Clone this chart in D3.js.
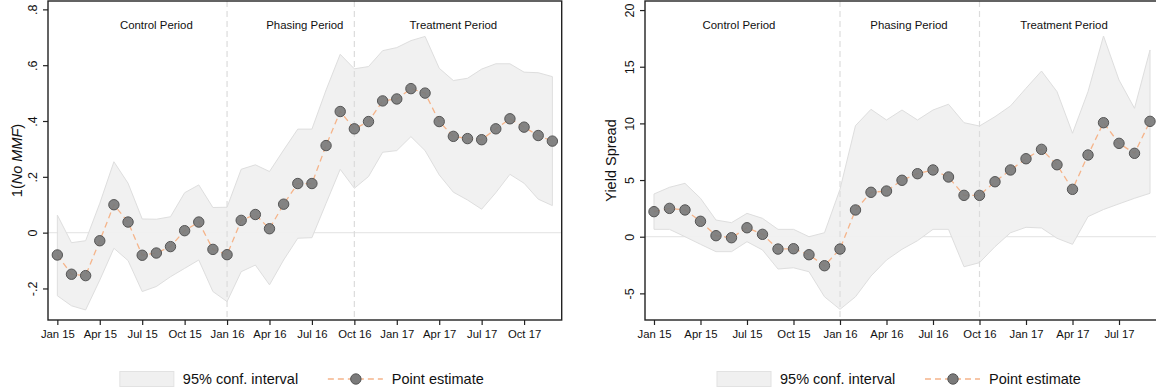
<!DOCTYPE html>
<html>
<head>
<meta charset="utf-8">
<script src="https://d3js.org/d3.v7.min.js"></script>
<style>
body { margin: 0; background: #fff; }
svg { display: block; font-family: "Liberation Sans", Arial, sans-serif; }
</style>
</head>
<body>
<svg id="chart" width="1156" height="391"></svg>
<script>
// tick labels (every third month, starting Jan 15)
const tickLabels = ["Jan 15","Apr 15","Jul 15","Oct 15","Jan 16","Apr 16","Jul 16","Oct 16","Jan 17","Apr 17","Jul 17","Oct 17"];
const periodLabels = ["Control Period","Phasing Period","Treatment Period"];
const periodBreaks = [12, 21]; // Jan 16, Oct 16

// left panel: 1(No MMF), Jan 15 .. Dec 17
const leftEstimate = [-0.080,-0.149,-0.154,-0.029,0.100,0.038,-0.081,-0.073,-0.050,0.007,0.038,-0.060,
  -0.079,0.044,0.065,0.014,0.102,0.176,0.176,0.312,0.434,0.372,0.398,0.472,
  0.479,0.516,0.500,0.398,0.345,0.337,0.333,0.372,0.408,0.378,0.348,0.328];
const leftUpper = [0.063,-0.036,-0.029,0.105,0.254,0.177,0.049,0.048,0.057,0.143,0.171,0.090,
  0.091,0.227,0.243,0.219,0.296,0.371,0.371,0.511,0.639,0.587,0.595,0.652,
  0.663,0.688,0.703,0.589,0.545,0.553,0.586,0.605,0.605,0.575,0.573,0.559];
const leftLower = [-0.226,-0.262,-0.277,-0.170,-0.056,-0.100,-0.211,-0.193,-0.158,-0.128,-0.098,-0.211,
  -0.247,-0.140,-0.116,-0.187,-0.098,-0.020,-0.018,0.105,0.227,0.159,0.201,0.288,
  0.294,0.344,0.294,0.207,0.145,0.117,0.084,0.143,0.209,0.177,0.120,0.097];
const leftYTicks = [-0.2, 0, 0.2, 0.4, 0.6, 0.8];
const leftYLabels = ["-.2","0",".2",".4",".6",".8"];

// right panel: yield spread, Jan 15 .. Sep 17
const rightEstimate = [2.21,2.50,2.36,1.36,0.09,-0.09,0.79,0.21,-1.09,-1.06,-1.59,-2.56,
  -1.09,2.36,3.92,4.03,4.98,5.56,5.89,5.27,3.65,3.65,4.85,5.89,
  6.88,7.71,6.35,4.18,7.21,10.06,8.24,7.36,10.18];
const rightUpper = [3.77,4.36,4.71,3.39,1.47,1.24,2.06,1.62,0.65,0.65,0.00,0.35,
  4.18,9.80,11.24,10.30,11.18,10.30,11.18,11.69,10.06,9.77,10.59,11.54,
  13.10,14.62,12.80,9.13,12.80,17.71,13.83,11.33,16.48];
const rightLower = [0.65,0.65,0.00,-0.67,-1.32,-1.32,-0.44,-1.17,-2.85,-2.74,-3.09,-5.30,
  -6.41,-5.30,-3.47,-2.06,-1.11,-0.35,0.65,0.65,-2.65,-2.29,-0.88,0.35,
  0.83,0.77,-0.14,-0.67,1.77,2.40,2.90,3.39,3.83];
const rightYTicks = [-5, 0, 5, 10, 15, 20];
const rightYLabels = ["-5","0","5","10","15","20"];

const svg = d3.select("#chart");

function drawPanel(p) {
  const g = svg.append("g");
  const x = d3.scaleLinear().domain(p.xDomain).range([p.left, p.right]);
  const y = d3.scaleLinear().domain(p.yDomain).range([p.bottom, p.top]);
  const n = p.est.length;
  const idx = d3.range(n);

  // zero line
  g.append("line")
    .attr("x1", p.left).attr("x2", p.right)
    .attr("y1", y(0)).attr("y2", y(0))
    .attr("stroke", "#e8e8e8").attr("stroke-width", 1.2);

  // confidence band
  const area = d3.area()
    .x(i => x(i)).y0(i => y(p.lo[i])).y1(i => y(p.hi[i]));
  g.append("path").datum(idx)
    .attr("d", area)
    .attr("fill", "#f0f0f0").attr("fill-opacity", 0.92)
    .attr("stroke", "#dedede").attr("stroke-width", 1);

  // period break lines
  g.selectAll(".brk").data(periodBreaks).join("line")
    .attr("x1", d => x(d)).attr("x2", d => x(d))
    .attr("y1", p.top).attr("y2", p.bottom)
    .attr("stroke", "#dcdcdc").attr("stroke-width", 1.2)
    .attr("stroke-dasharray", "6,4");

  // period labels
  g.selectAll(".plab").data(periodLabels).join("text")
    .attr("x", (d, i) => x(p.labAt[i]))
    .attr("y", p.top + 28)
    .attr("text-anchor", "middle")
    .attr("font-size", 11.4)
    .attr("fill", "#111")
    .text(d => d);

  // dashed estimate line
  g.append("path").datum(idx)
    .attr("d", d3.line().x(i => x(i)).y(i => y(p.est[i])))
    .attr("fill", "none")
    .attr("stroke", "#f5b48a").attr("stroke-width", 1.3)
    .attr("stroke-dasharray", "6,4");

  g.selectAll(".pt").data(idx).join("circle")
    .attr("cx", i => x(i)).attr("cy", i => y(p.est[i]))
    .attr("r", 5.2)
    .attr("fill", "#7a7a7a").attr("fill-opacity", 0.92)
    .attr("stroke", "#555").attr("stroke-width", 1);

  // frame
  g.append("rect")
    .attr("x", p.left).attr("y", p.top)
    .attr("width", p.right - p.left).attr("height", p.bottom - p.top)
    .attr("fill", "none").attr("stroke", "#222").attr("stroke-width", 1.4);

  // x axis
  const xAxis = d3.axisBottom(x)
    .tickValues(tickLabels.map((d, i) => i * 3).filter(v => v < n))
    .tickFormat(v => tickLabels[v / 3])
    .tickSize(5).tickPadding(5);
  const xg = g.append("g").attr("transform", `translate(0,${p.bottom})`).call(xAxis);
  xg.select(".domain").remove();
  xg.selectAll("line").attr("stroke", "#222").attr("stroke-width", 1.2);
  xg.selectAll("text").attr("font-size", 11.3).attr("fill", "#111")
    .attr("font-family", "Liberation Sans, Arial, sans-serif");

  // y axis with rotated labels
  const yAxis = d3.axisLeft(y)
    .tickValues(p.yTicks)
    .tickFormat((v, i) => p.yLabels[i])
    .tickSize(5);
  const yg = g.append("g").attr("transform", `translate(${p.left},0)`).call(yAxis);
  yg.select(".domain").remove();
  yg.selectAll("line").attr("stroke", "#222").attr("stroke-width", 1.2);
  yg.selectAll("text")
    .attr("x", null).attr("dy", null)
    .attr("transform", "translate(-11.5,0) rotate(-90)")
    .attr("text-anchor", "middle")
    .attr("font-size", 12.5).attr("fill", "#111")
    .attr("font-family", "Liberation Sans, Arial, sans-serif");

  // y title
  const t = g.append("text")
    .attr("transform", `translate(${p.titleX},${(p.top + p.bottom) / 2}) rotate(-90)`)
    .attr("text-anchor", "middle")
    .attr("font-size", 14.5).attr("fill", "#111");
  p.title.forEach(s => t.append("tspan").attr("font-style", s.italic ? "italic" : null).text(s.t));

  // legend
  const cx = (p.left + p.right) / 2;
  const ly = 379;
  const lg = g.append("g");
  lg.append("rect")
    .attr("x", cx - 185).attr("y", ly - 7.5).attr("width", 54).attr("height", 15)
    .attr("fill", "#f0f0f0").attr("stroke", "#e2e2e2").attr("stroke-width", 1);
  lg.append("text").attr("x", cx - 122).attr("y", ly + 5)
    .attr("font-size", 14.5).attr("fill", "#111").text("95% conf. interval");
  lg.append("line")
    .attr("x1", cx + 23).attr("x2", cx + 78).attr("y1", ly).attr("y2", ly)
    .attr("stroke", "#f5b48a").attr("stroke-width", 1.3).attr("stroke-dasharray", "6,4");
  lg.append("circle").attr("cx", cx + 51).attr("cy", ly).attr("r", 5.2)
    .attr("fill", "#7a7a7a").attr("stroke", "#555").attr("stroke-width", 1);
  lg.append("text").attr("x", cx + 87).attr("y", ly + 5)
    .attr("font-size", 14.5).attr("fill", "#111").text("Point estimate");
}

drawPanel({
  left: 48, right: 561.7, top: 1, bottom: 320,
  xDomain: [-0.66, 35.66], yDomain: [-0.313, 0.830],
  est: leftEstimate, hi: leftUpper, lo: leftLower,
  yTicks: leftYTicks, yLabels: leftYLabels,
  labAt: [7, 17.5, 28],
  titleX: 22,
  title: [{t: "1("}, {t: "No MMF", italic: true}, {t: ")"}]
});

drawPanel({
  left: 645, right: 1159, top: 1, bottom: 320,
  xDomain: [-0.58, 32.58], yDomain: [-7.35, 20.8],
  est: rightEstimate, hi: rightUpper, lo: rightLower,
  yTicks: rightYTicks, yLabels: rightYLabels,
  labAt: [5.48, 16.45, 26.45],
  titleX: 616,
  title: [{t: "Yield Spread"}]
});
</script>
</body>
</html>
